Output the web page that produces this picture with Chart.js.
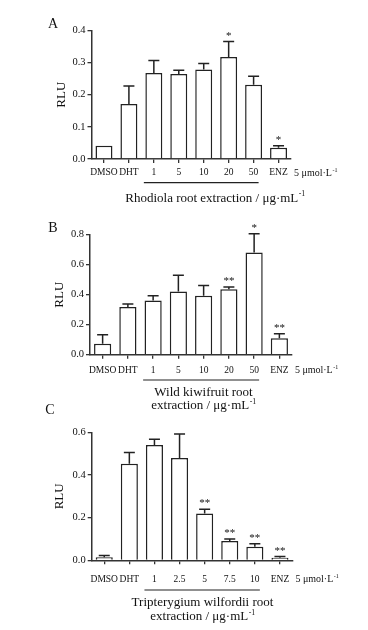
<!DOCTYPE html>
<html>
<head>
<meta charset="utf-8">
<title>RLU panels</title>
<script src="https://cdn.jsdelivr.net/npm/chart.js@4.4.0/dist/chart.umd.min.js"></script>
<style>
  body { margin: 0; background: #fff; }
  .stage { position: relative; width: 368px; height: 630px; overflow: hidden; }
  .stage canvas { position: absolute; left: 0; top: 0; }
</style>
</head>
<body>
<div class="stage">
  <canvas id="chartA" width="368" height="630"></canvas>
  <canvas id="chartB" width="368" height="630"></canvas>
  <canvas id="chartC" width="368" height="630"></canvas>
</div>
<script>
const FONT = '"Liberation Serif", "Times New Roman", serif';

// Panel A - Rhodiola root extraction
const labelsA = ['DMSO', 'DHT', '1', '5', '10', '20', '50', 'ENZ'];
const meansA = [0.041, 0.171, 0.267, 0.264, 0.278, 0.317, 0.231, 0.035];
const errsA = [0.0, 0.056, 0.039, 0.012, 0.019, 0.048, 0.026, 0.006];
const starsA = ['', '', '', '', '', '*', '', '*'];
const titleA = ['Rhodiola root extraction / μg·mL'];

// Panel B - Wild kiwifruit root extraction
const labelsB = ['DMSO', 'DHT', '1', '5', '10', '20', '50', 'ENZ'];
const meansB = [0.073, 0.318, 0.362, 0.422, 0.393, 0.436, 0.682, 0.109];
const errsB = [0.060, 0.020, 0.031, 0.107, 0.069, 0.015, 0.125, 0.031];
const starsB = ['', '', '', '', '', '**', '*', '**'];
const titleB = ['Wild kiwifruit root', 'extraction / μg·mL'];

// Panel C - Tripterygium wilfordii root extraction
const labelsC = ['DMSO', 'DHT', '1', '2.5', '5', '7.5', '10', 'ENZ'];
const meansC = [0.014, 0.453, 0.541, 0.480, 0.219, 0.091, 0.064, 0.0125];
const errsC = [0.008, 0.052, 0.026, 0.112, 0.020, 0.009, 0.014, 0.005];
const starsC = ['', '', '', '', '**', '**', '**', '**'];
const titleC = ['Tripterygium wilfordii root', 'extraction / μg·mL'];

const ENZ_DOSE = '5 μmol·L';

// draws text with a small raised "-1" after it
function textWithSup(ctx, str, x, y, size, align) {
  ctx.font = size + 'px ' + FONT;
  const w = ctx.measureText(str).width;
  ctx.font = (size * 0.6) + 'px ' + FONT;
  const ws = ctx.measureText('-1').width;
  let left = x;
  if (align === 'center') left = x - (w + ws) / 2;
  ctx.textAlign = 'left';
  ctx.textBaseline = 'middle';
  ctx.font = size + 'px ' + FONT;
  ctx.fillText(str, left, y);
  ctx.font = (size * 0.6) + 'px ' + FONT;
  ctx.fillText('-1', left + w + 0.5, y - size * 0.3);
}

// error bars, stars, panel letter, y title, dose text, underline, x title
const decoPlugin = {
  id: 'deco',
  afterDatasetsDraw(chart, args, o) {
    const ctx = chart.ctx;
    const xs = chart.scales.x, ys = chart.scales.y;
    const meta = chart.getDatasetMeta(0);
    ctx.save();
    ctx.strokeStyle = '#222';
    ctx.fillStyle = '#111';
    ctx.lineWidth = 1.5;

    o.means.forEach((m, i) => {
      const bx = meta.data[i].x;
      const yBar = ys.getPixelForValue(m);
      const yTop = ys.getPixelForValue(m + o.errs[i]);
      if (o.errs[i] > 0) {
        ctx.beginPath();
        ctx.moveTo(bx, yBar);
        ctx.lineTo(bx, yTop);
        ctx.moveTo(bx - 5.5, yTop);
        ctx.lineTo(bx + 5.5, yTop);
        ctx.stroke();
      }
      if (o.stars[i]) {
        ctx.font = '11px ' + FONT;
        ctx.textAlign = 'center';
        ctx.textBaseline = 'alphabetic';
        ctx.fillText(o.stars[i], bx, yTop - 3);
      }
    });

    // panel letter
    ctx.font = '14px ' + FONT;
    ctx.textAlign = 'center';
    ctx.textBaseline = 'middle';
    ctx.fillText(o.letter, o.letterX, o.letterY);

    // y axis title
    ctx.save();
    ctx.translate(o.rluX, (ys.top + ys.bottom) / 2);
    ctx.rotate(-Math.PI / 2);
    ctx.font = '13px ' + FONT;
    ctx.textAlign = 'center';
    ctx.textBaseline = 'middle';
    ctx.fillText('RLU', 0, 0);
    ctx.restore();

    // dose after ENZ
    const enzX = xs.getPixelForValue(o.means.length - 1);
    textWithSup(ctx, ENZ_DOSE, enzX + 15.5, o.labelY, 10, 'left');

    // underline below extraction doses
    ctx.lineWidth = 1.2;
    ctx.strokeStyle = '#222';
    ctx.beginPath();
    ctx.moveTo(xs.getPixelForValue(2) - 10, o.lineY);
    ctx.lineTo(xs.getPixelForValue(6) + 5, o.lineY);
    ctx.stroke();

    // x title lines, last one carries the superscript
    o.title.forEach((t, k) => {
      const y = o.titleY[k];
      if (k === o.title.length - 1) {
        textWithSup(ctx, t, o.titleX, y, 13, 'center');
      } else {
        ctx.font = '13px ' + FONT;
        ctx.textAlign = 'center';
        ctx.textBaseline = 'middle';
        ctx.fillText(t, o.titleX, y);
      }
    });
    ctx.restore();
  }
};

function makePanel(id, labels, means, errs, stars, title, max, step, box, deco) {
  new Chart(document.getElementById(id), {
    type: 'bar',
    data: {
      labels: labels,
      datasets: [{
        data: means,
        backgroundColor: '#fff',
        borderColor: '#222',
        borderWidth: 1.5,
        barPercentage: 0.68,
        categoryPercentage: 1
      }]
    },
    options: {
      responsive: false,
      animation: false,
      events: [],
      layout: {
        padding: {
          left: box.left - 30,
          right: 368 - box.right,
          top: box.top,
          bottom: 630 - box.bottom - 40
        }
      },
      plugins: {
        legend: { display: false },
        tooltip: { enabled: false },
        deco: Object.assign({ means, errs, stars, title }, deco)
      },
      scales: {
        x: {
          offset: true,
          afterFit: s => { s.height = 40; },
          grid: { drawOnChartArea: false, drawTicks: true, tickLength: 4, offset: false, color: '#333', lineWidth: 1.3 },
          border: { display: true, color: '#333', width: 1.5 },
          ticks: {
            autoSkip: false, maxRotation: 0, padding: box.tickPad,
            color: '#111', font: { family: FONT, size: 9.5 }
          }
        },
        y: {
          min: 0,
          max: max,
          afterFit: s => { s.width = 30; },
          grid: { drawOnChartArea: false, drawTicks: true, tickLength: 4, color: '#333', lineWidth: 1.3 },
          border: { display: true, color: '#333', width: 1.5 },
          ticks: {
            stepSize: step, padding: 2, color: '#111',
            font: { family: FONT, size: 10.5 },
            callback: v => v.toFixed(1)
          }
        }
      }
    },
    plugins: [decoPlugin]
  });
}

makePanel('chartA', labelsA, meansA, errsA, starsA, titleA, 0.4, 0.1,
  { left: 91.5, right: 291, top: 30.3, bottom: 159, tickPad: 4 },
  { letter: 'A', letterX: 53, letterY: 24, rluX: 61.5, labelY: 173.3, lineY: 182.7, titleX: 215, titleY: [198.3] });

makePanel('chartB', labelsB, meansB, errsB, starsB, titleB, 0.8, 0.2,
  { left: 90, right: 292, top: 234.7, bottom: 354.7, tickPad: 6 },
  { letter: 'B', letterX: 53, letterY: 228, rluX: 60, labelY: 370.7, lineY: 380, titleX: 203.5, titleY: [392.7, 406] });

makePanel('chartC', labelsC, meansC, errsC, starsC, titleC, 0.6, 0.2,
  { left: 91.7, right: 292.5, top: 432.3, bottom: 560.3, tickPad: 9 },
  { letter: 'C', letterX: 50, letterY: 410, rluX: 60, labelY: 579.5, lineY: 590, titleX: 202.5, titleY: [602.7, 616.7] });
</script>
</body>
</html>
